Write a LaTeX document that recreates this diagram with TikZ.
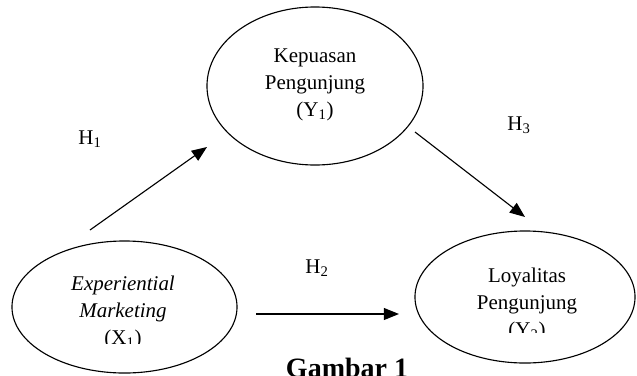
\documentclass[tikz,border=0pt]{standalone}
\usepackage{fontspec}
\setmainfont{Liberation Serif}
\usepackage{tikz}
\usetikzlibrary{arrows.meta,shapes.geometric}

\begin{document}
\begin{tikzpicture}[x=0.025cm, y=-0.025cm,
                        var/.style={ellipse, draw=black, line width=0.8pt, inner sep=0pt},
                        lbl/.style={align=center, inner sep=0pt,
                        font=\fontsize{14.9}{19.2}\selectfont},
                        hyp/.style={-{Triangle[length=0.38cm,width=0.3cm]}, line width=0.8pt}]
                        \useasboundingbox (0,0) rectangle (637,375);
                        \node[var, minimum width=5.4cm, minimum height=3.95cm] (kepuasan) at (315,86) {};
                        \node[var, minimum width=5.625cm, minimum height=3.3cm] (experiential) at (124.5,307) {};
                        \node[var, minimum width=5.5cm, minimum height=3.3cm] (loyalitas) at (525,297) {};
                        \node[lbl] (tkepuasan) at (315,84.5) {Kepuasan\\Pengunjung\\(Y\textsubscript{1})};
                        \begin{scope}
                        \clip (0,0) rectangle (300,343);
                        \node[lbl] (texperiential) at (123,312.5)
                        {\itshape Experiential\\\itshape Marketing\\(X\textsubscript{1})};
                        \end{scope}
                        \begin{scope}
                        \clip (300,0) rectangle (637,332);
                        \node[lbl] (tloyalitas) at (527,304) {Loyalitas\\Pengunjung\\(Y\textsubscript{2})};
                        \end{scope}
                        \coordinate (h1from) at (90,230);
                        \coordinate (h1to) at (207,147);
                        \coordinate (h2from) at (256,314);
                        \coordinate (h2to) at (399,314);
                        \coordinate (h3from) at (415,132);
                        \coordinate (h3to) at (525,217);
                        \draw[hyp] (h1from) -- (h1to);
                        \draw[hyp] (h2from) -- (h2to);
                        \draw[hyp] (h3from) -- (h3to);
                        \node[lbl] (h1) at (90,139) {H\textsubscript{1}};
                        \node[lbl] (h2) at (317,268) {H\textsubscript{2}};
                        \node[lbl] (h3) at (519,125) {H\textsubscript{3}};
                        \node[anchor=base, inner sep=0pt,
                        font=\bfseries\fontsize{19.9}{24}\selectfont] (gambar) at (347,377) {Gambar 1};
                    \end{tikzpicture}
\end{document}
